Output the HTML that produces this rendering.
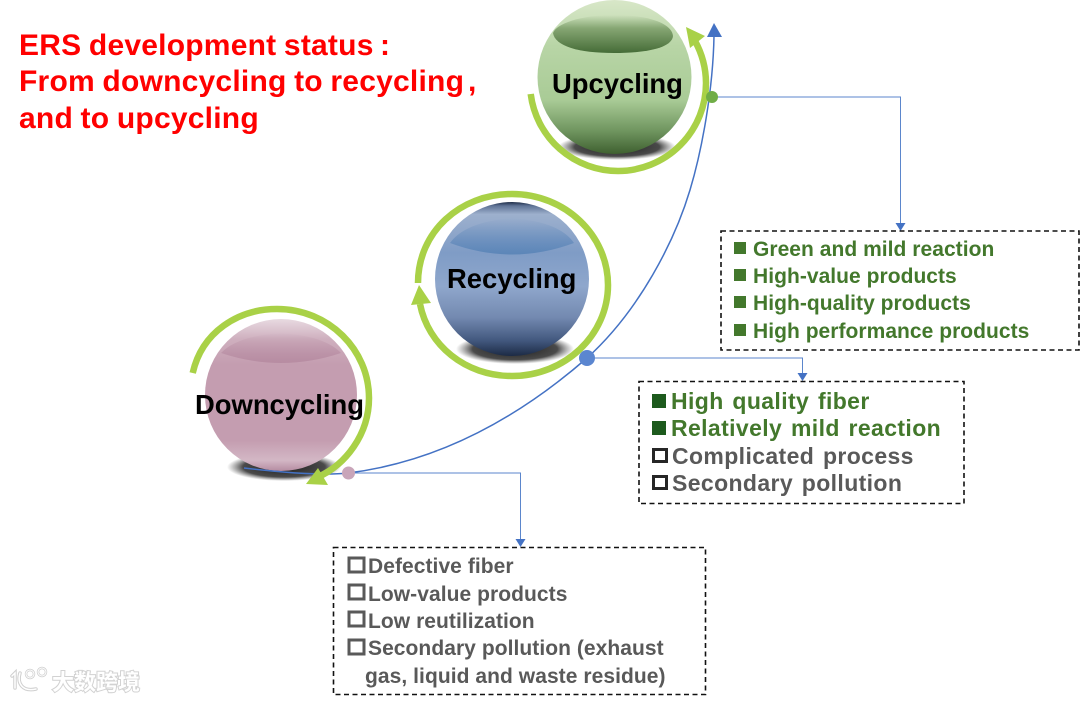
<!DOCTYPE html>
<html><head><meta charset="utf-8">
<style>
html,body{margin:0;padding:0;background:#fff;width:1080px;height:701px;overflow:hidden}
svg{display:block}
text{font-family:"Liberation Sans","Noto Sans CJK SC",sans-serif;font-weight:bold}
.t{fill:#f00;font-size:30px;letter-spacing:.22px;word-spacing:-1px}
.g{fill:#43782c;font-size:21px;letter-spacing:.04px}
.d{fill:#595959;font-size:21px;letter-spacing:.06px}
.b{font-size:23px;letter-spacing:.38px;word-spacing:2px}
.l{fill:#000;font-size:27.4px}
.box{fill:none;stroke:#111;stroke-width:1.6;stroke-dasharray:5 3.5}
</style></head><body>
<svg width="1080" height="701" viewBox="0 0 1080 701" xmlns="http://www.w3.org/2000/svg">
<defs>
<linearGradient id="gU" x1="0" y1="0" x2="0" y2="1">
<stop offset="0" stop-color="#d8e7c8"/><stop offset=".3" stop-color="#b8d5a6"/><stop offset=".65" stop-color="#a9cb96"/><stop offset=".85" stop-color="#6f955f"/><stop offset="1" stop-color="#3f6030"/></linearGradient>
<linearGradient id="gUt" x1="0" y1="0" x2="0" y2="1"><stop offset="0" stop-color="#8fae7c" stop-opacity="0"/><stop offset=".35" stop-color="#86a673"/><stop offset="1" stop-color="#456c37"/></linearGradient>
<linearGradient id="gR" x1="0" y1="0" x2="0" y2="1">
<stop offset="0" stop-color="#1e2c47"/><stop offset=".025" stop-color="#5f7395"/><stop offset=".08" stop-color="#9db0cd"/><stop offset=".33" stop-color="#7f9cc6"/><stop offset=".55" stop-color="#8fa7cc"/><stop offset=".75" stop-color="#7389b0"/><stop offset=".9" stop-color="#42587e"/><stop offset="1" stop-color="#1c2a45"/></linearGradient>
<linearGradient id="gRt" x1="0" y1="0" x2="0" y2="1"><stop offset="0" stop-color="#5f88ba" stop-opacity="0"/><stop offset="1" stop-color="#5c86b8"/></linearGradient>
<linearGradient id="gD" x1="0" y1="0" x2="0" y2="1">
<stop offset="0" stop-color="#e8dae1"/><stop offset=".13" stop-color="#cfb0bf"/><stop offset=".3" stop-color="#c49db0"/><stop offset=".8" stop-color="#c49db0"/><stop offset=".93" stop-color="#d3b7c5"/><stop offset="1" stop-color="#b58ca1"/></linearGradient>
<linearGradient id="gDt" x1="0" y1="0" x2="0" y2="1"><stop offset="0" stop-color="#b58aa0" stop-opacity="0"/><stop offset="1" stop-color="#b78ca2"/></linearGradient>
<radialGradient id="sh"><stop offset="0" stop-color="#111" stop-opacity=".95"/><stop offset=".72" stop-color="#2a2a2a" stop-opacity=".85"/><stop offset="1" stop-color="#555" stop-opacity="0"/></radialGradient>
</defs>

<!-- Title -->
<text class="t" x="19" y="55">ERS development status</text>
<text class="t" x="380" y="55">:</text>
<text class="t" x="19" y="91">From downcycling to recycling</text>
<text class="t" x="468" y="91">,</text>
<text class="t" x="19" y="128">and to upcycling</text>

<!-- Spheres -->
<ellipse cx="617" cy="147" rx="59" ry="13" fill="url(#sh)"/>
<circle cx="614.5" cy="77" r="77" fill="url(#gU)"/>
<path d="M553,33 C556,24 580,15 614,15 C650,15 672,24 673,36 C672,47 650,53 614,53 C578,53 555,46 553,33Z" fill="url(#gUt)"/>

<ellipse cx="515" cy="349" rx="59" ry="15" fill="url(#sh)"/>
<circle cx="512" cy="279" r="77" fill="url(#gR)"/>
<path d="M450,243 Q512,266 574,243 Q560,222 512,218 Q465,222 450,243Z" fill="url(#gRt)"/>

<ellipse cx="284" cy="467" rx="57" ry="14" fill="url(#sh)"/>
<circle cx="281" cy="395" r="76" fill="url(#gD)"/>
<path d="M221,353 Q281,373 341,353 Q325,336 281,333 Q237,336 221,353Z" fill="url(#gDt)"/>

<!-- Main blue curve -->
<path d="M244,468 C280,472 320,476 348,473 C430,463 510,425 587,358 C640,310 675,240 690,190 C702,150 713,90 714,36" fill="none" stroke="#4472c4" stroke-width="1.5"/>
<path d="M714,23 L722,37 L707,37Z" fill="#4472c4"/>

<!-- Arcs -->
<path d="M530.7,94 A88,88 0 0 0 618,171 A88,88 0 0 0 706,83 A88,88 0 0 0 695,41" fill="none" stroke="#a9d147" stroke-width="6.5"/>
<path d="M686,27 L705,36 L690,48Z" fill="#a9d147"/>
<path d="M418,283 C418,232 460,194 512,194 C565,194 608,235 608,285 C608,335 565,376 512,376 C465,376 428,345 420,304" fill="none" stroke="#a9d147" stroke-width="6.5"/>
<path d="M419,285 L431,303 L411,305Z" fill="#a9d147"/>
<path d="M192.7,373 C202,332 238,309 277,309 C329,309 369,350 369,398 C369,435 345,465 318,477" fill="none" stroke="#a9d147" stroke-width="6.5"/>
<path d="M306,484 L318,468 L328,485Z" fill="#a9d147"/>

<!-- Connectors -->
<path d="M712,97 H900.500 V225" fill="none" stroke="#5b86cc" stroke-width="1"/>
<path d="M895.500,223 H905.500 L900.500,231Z" fill="#4472c4"/>
<path d="M587,358 H802.500 V375" fill="none" stroke="#5b86cc" stroke-width="1"/>
<path d="M797.500,373 H807.500 L802.500,381Z" fill="#4472c4"/>
<path d="M348,473 H520.500 V541" fill="none" stroke="#5b86cc" stroke-width="1"/>
<path d="M515.500,539 H525.500 L520.500,547Z" fill="#4472c4"/>
<circle cx="712" cy="97" r="6" fill="#70ad47"/>
<circle cx="587" cy="358" r="8" fill="#5b86d0"/>
<circle cx="348.500" cy="473" r="6.500" fill="#c9a5b9"/>

<!-- Sphere labels -->
<text class="l" x="552" y="93">Upcycling</text>
<text class="l" x="447" y="288">Recycling</text>
<text class="l" x="195" y="414">Downcycling</text>

<!-- Box 1 -->
<rect class="box" x="721" y="231" width="358" height="119"/>
<rect x="734" y="242" width="12" height="12" fill="#43782c"/>
<rect x="734" y="269" width="12" height="12" fill="#43782c"/>
<rect x="734" y="296" width="12" height="12" fill="#43782c"/>
<rect x="734" y="324" width="12" height="12" fill="#43782c"/>
<text class="g" x="753" y="256">Green and mild reaction</text>
<text class="g" x="753" y="283">High-value products</text>
<text class="g" x="753" y="310">High-quality products</text>
<text class="g" x="753" y="338">High performance products</text>

<!-- Box 2 -->
<rect class="box" x="639" y="381.500" width="325" height="122"/>
<rect x="652" y="394" width="14" height="14" fill="#1d5a1d"/>
<rect x="652" y="421" width="14" height="14" fill="#1d5a1d"/>
<rect x="653.500" y="449.500" width="13" height="12" fill="none" stroke="#262626" stroke-width="3"/>
<rect x="653.500" y="476.500" width="13" height="12" fill="none" stroke="#262626" stroke-width="3"/>
<text class="g b" x="671" y="409">High quality fiber</text>
<text class="g b" x="671" y="436">Relatively mild reaction</text>
<text class="d b" x="672" y="464">Complicated process</text>
<text class="d b" x="672" y="491">Secondary pollution</text>

<!-- Box 3 -->
<rect class="box" x="333.500" y="547.500" width="372" height="147"/>
<rect x="349" y="558" width="15" height="14" fill="none" stroke="#595959" stroke-width="3"/>
<rect x="349" y="585" width="15" height="14" fill="none" stroke="#595959" stroke-width="3"/>
<rect x="349" y="612" width="15" height="14" fill="none" stroke="#595959" stroke-width="3"/>
<rect x="349" y="640" width="15" height="14" fill="none" stroke="#595959" stroke-width="3"/>
<text class="d" x="368" y="573">Defective fiber</text>
<text class="d" x="368" y="601">Low-value products</text>
<text class="d" x="368" y="628">Low reutilization</text>
<text class="d" x="368" y="655">Secondary pollution (exhaust</text>
<text class="d" x="365" y="683">gas, liquid and waste residue)</text>

<!-- Watermark -->
<g fill="none" stroke="#cfcfcf" stroke-width="3.500" stroke-linecap="round">
<path d="M12,676 L15,673 V688"/><path d="M20,673 C17,683 22,692 36,689"/>
<circle cx="30" cy="674" r="4" stroke-width="2.500"/><circle cx="42" cy="672" r="4" stroke-width="2.500"/>
</g>
<g fill="none" stroke="#fff" stroke-width="1.500" stroke-linecap="round">
<path d="M12,676 L15,673 V688"/><path d="M20,673 C17,683 22,692 36,689"/>
<circle cx="30" cy="674" r="4" stroke-width="1"/><circle cx="42" cy="672" r="4" stroke-width="1"/>
</g>
<text x="52" y="690" style="font-size:22px;font-family:'Noto Sans CJK SC',sans-serif;font-weight:bold;paint-order:stroke" fill="#fff" stroke="#d2d2d2" stroke-width="2">大数跨境</text>
</svg>
</body></html>
